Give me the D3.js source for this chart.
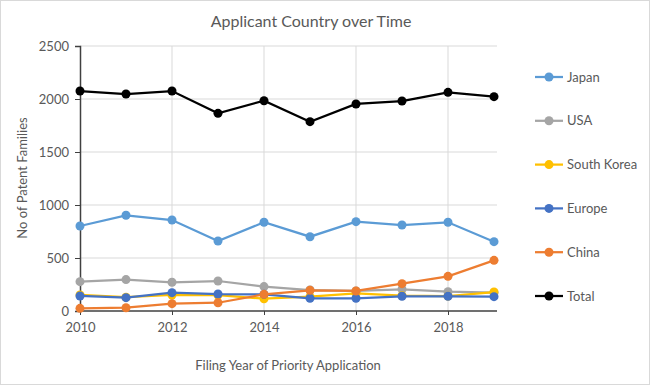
<!DOCTYPE html>
<meta charset="utf-8">
<style>
body { margin: 0; background: #fff; }
text { font-family: Lato, "Open Sans", sans-serif; fill: #595959; }
.grid line { stroke: #d9d9d9; stroke-width: 1; }
</style>
<svg width="650" height="385"></svg>
<script src="https://d3js.org/d3.v7.min.js"></script>
<script>

var years = [2010, 2011, 2012, 2013, 2014, 2015, 2016, 2017, 2018, 2019];
var japan = [802, 903, 858, 660, 837, 701, 843, 811, 837, 654];
var usa = [277, 296, 271, 283, 230, 198, 189, 205, 182, 173];
var southKorea = [151, 130, 151, 150, 116, 135, 167, 145, 140, 179];
var europe = [142, 126, 173, 160, 157, 120, 120, 139, 139, 135];
var china = [25, 31, 69, 78, 157, 195, 189, 258, 327, 478];
var total = [2075, 2047, 2075, 1865, 1984, 1786, 1953, 1981, 2063, 2022];
var yTicks = [0, 500, 1000, 1500, 2000, 2500];
var xTicks = [2010, 2012, 2014, 2016, 2018];

var series = [
  {name: "Japan", values: japan, color: "#5B9BD5"},
  {name: "USA", values: usa, color: "#A5A5A5"},
  {name: "South Korea", values: southKorea, color: "#FFC000"},
  {name: "Europe", values: europe, color: "#4472C4"},
  {name: "China", values: china, color: "#ED7D31"},
  {name: "Total", values: total, color: "#000000"}
];

var svg = d3.select("svg");

svg.append("rect")
    .attr("x", 0.5).attr("y", 0.5)
    .attr("width", 649).attr("height", 384)
    .attr("fill", "#fff")
    .attr("stroke", "#d9d9d9");

var x = d3.scaleLinear().domain([2010, 2019]).range([80, 494]);
var y = d3.scaleLinear().domain([0, 2500]).range([311, 46]);

// grid
var grid = svg.append("g").attr("class", "grid");
grid.selectAll(".h").data(yTicks.slice(1)).enter().append("line")
    .attr("x1", 80).attr("x2", 497)
    .attr("y1", function(d) { return y(d); })
    .attr("y2", function(d) { return y(d); });
grid.selectAll(".v").data(xTicks.slice(1)).enter().append("line")
    .attr("x1", function(d) { return x(d); })
    .attr("x2", function(d) { return x(d); })
    .attr("y1", 46).attr("y2", 311);

// axes
var yAxis = svg.append("g")
    .attr("transform", "translate(80,0)")
    .call(d3.axisLeft(y).tickValues(yTicks).tickFormat(d3.format("d")).tickSize(5).tickPadding(6));
yAxis.selectAll("line, path").attr("stroke", "#404040");
yAxis.select(".domain").attr("stroke-width", 1.5);
yAxis.selectAll("text").style("font-size", "13px");

var xAxis = svg.append("g")
    .attr("transform", "translate(0,311)")
    .call(d3.axisBottom(x).tickValues(xTicks).tickFormat(d3.format("d")).tickSize(4).tickPadding(8));
xAxis.selectAll("line").attr("stroke", "#404040");
xAxis.select(".domain").attr("d", "M80,0H497").attr("stroke", "#404040").attr("stroke-width", 1.5);
xAxis.selectAll("text").style("font-size", "13px");

// lines
var line = d3.line()
    .x(function(d, i) { return x(years[i]); })
    .y(function(d) { return y(d); });

series.forEach(function(s) {
  var g = svg.append("g");
  g.append("path")
      .datum(s.values)
      .attr("fill", "none")
      .attr("stroke", s.color)
      .attr("stroke-width", 2.25)
      .attr("d", line);
  g.selectAll("circle").data(s.values).enter().append("circle")
      .attr("cx", function(d, i) { return x(years[i]); })
      .attr("cy", function(d) { return y(d); })
      .attr("r", 4.5)
      .attr("fill", s.color);
});

// legend
var legend = svg.append("g").selectAll("g").data(series).enter().append("g")
    .attr("transform", function(d, i) { return "translate(535," + (77 + i * 43.8) + ")"; });
legend.append("line")
    .attr("x1", 0).attr("x2", 28)
    .attr("stroke", function(d) { return d.color; })
    .attr("stroke-width", 2.25);
legend.append("circle")
    .attr("cx", 14).attr("r", 4.5)
    .attr("fill", function(d) { return d.color; });
legend.append("text")
    .attr("x", 32).attr("dy", "0.35em")
    .style("font-size", "13px")
    .text(function(d) { return d.name; });

// titles
svg.append("text")
    .attr("x", 311).attr("y", 27)
    .attr("text-anchor", "middle")
    .style("font-size", "16px")
    .text("Applicant Country over Time");

svg.append("text")
    .attr("transform", "translate(27,178) rotate(-90)")
    .attr("text-anchor", "middle")
    .style("font-size", "13px")
    .text("No of Patent Families");

svg.append("text")
    .attr("x", 288).attr("y", 370)
    .attr("text-anchor", "middle")
    .style("font-size", "13px")
    .text("Filing Year of Priority Application");

</script>
